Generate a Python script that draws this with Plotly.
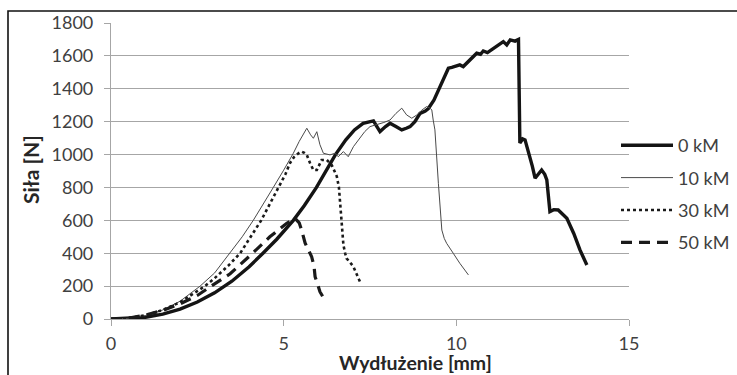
import plotly.graph_objects as go

# ---- data ----
x_0km = [0, 0.5, 1, 1.5, 2, 2.5, 3, 3.5, 4, 4.4, 4.8, 5.28, 5.6, 5.95, 6.2, 6.5, 6.8, 7.05, 7.3, 7.45,
         7.6, 7.7, 7.79, 7.95, 8.08, 8.25, 8.42, 8.55, 8.66, 8.8, 8.95, 9.1, 9.19, 9.35, 9.53, 9.65, 9.77, 9.87,
         9.96, 10.1, 10.2, 10.4, 10.59, 10.7, 10.78, 10.9, 11.07, 11.2, 11.36, 11.46, 11.56, 11.7, 11.8, 11.84,
         11.92, 11.99, 12.09, 12.2, 12.28, 12.38, 12.47, 12.56, 12.62, 12.71, 12.82, 12.95, 13.05, 13.2, 13.4,
         13.58, 13.78]
y_0km = [0, 3, 11, 30, 60, 103, 159, 230, 318, 400, 485, 600, 690, 800, 890, 1000, 1090, 1150, 1190, 1200,
         1205, 1170, 1140, 1170, 1190, 1170, 1150, 1160, 1170, 1200, 1250, 1265, 1280, 1330, 1413, 1470, 1525, 1530,
         1535, 1545, 1535, 1575, 1616, 1610, 1630, 1620, 1646, 1660, 1687, 1667, 1697, 1690, 1700, 1070,
         1095, 1089, 1018, 930, 856, 880, 906, 880, 846, 653, 665, 663, 640, 613, 520,
         420, 328]

x_10km = [0, 0.5, 1, 1.5, 2, 2.58, 3, 3.45, 3.8, 4.12, 4.4, 4.7, 5.0, 5.28, 5.45, 5.6, 5.67, 5.78, 5.86, 5.96,
          6.05, 6.15, 6.34, 6.49, 6.58, 6.73, 6.87, 7.02, 7.2, 7.35, 7.5, 7.69, 7.9, 8.08, 8.25, 8.42, 8.56, 8.71,
          8.85, 9.0, 9.14, 9.24, 9.29, 9.33, 9.38, 9.48, 9.58, 9.65, 9.72, 9.91, 10.1, 10.35]
y_10km = [0, 4, 21, 55, 108, 200, 280, 400, 500, 600, 700, 800, 905, 1008, 1080, 1140, 1160, 1120, 1099, 1139,
          1060, 1008, 998, 1008, 987, 1018, 987, 1048, 1100, 1140, 1170, 1180, 1195, 1210, 1250, 1282, 1241, 1221,
          1240, 1270, 1292, 1282, 1271, 1210, 1150, 825, 541, 490, 460, 400, 339, 268]

x_30km = [0, 0.5, 1, 1.5, 2, 2.72, 3, 3.4, 3.74, 4.05, 4.35, 4.6, 4.85, 5.05, 5.18, 5.3, 5.43, 5.52, 5.6, 5.67,
          5.76, 5.86, 5.96, 6.03, 6.1, 6.25, 6.39, 6.47, 6.54, 6.6, 6.63, 6.68, 6.73, 6.78, 6.82, 6.92, 7.02, 7.1,
          7.21]
y_30km = [0, 5, 23, 55, 102, 200, 248, 325, 400, 500, 600, 700, 800, 880, 947, 985, 1008, 1018, 1010, 998,
          950, 906, 906, 940, 967, 967, 937, 900, 866, 800, 724, 602, 450, 400, 369, 345, 318, 280,
          227]

x_50km = [0, 0.5, 1, 1.5, 2, 2.5, 2.9, 3.45, 4.1, 4.6, 5.09, 5.25, 5.33, 5.45, 5.52, 5.62, 5.72, 5.81, 5.88,
          5.91, 6.0, 6.05, 6.15, 6.29]
y_50km = [0, 5, 24, 52, 92, 143, 200, 275, 400, 500, 582, 600, 612, 585, 541, 462, 420, 379, 320,
          257, 200, 166, 130, 115]

series_names = ["0 kM", "10 kM", "30 kM", "50 kM"]
x_ticks = [0, 5, 10, 15]
x_title = "Wydłużenie [mm]"
y_title = "Siła [N]"

FONT = "Lato, 'Open Sans', sans-serif"

fig = go.Figure()
fig.add_trace(go.Scatter(x=x_0km, y=y_0km, mode="lines", name=series_names[0], legendgroup="a",
                         line=dict(color="#141414", width=3.4)))
fig.add_trace(go.Scatter(x=x_10km, y=y_10km, mode="lines", name=series_names[1], legendgroup="b",
                         line=dict(color="#4a4a4a", width=1)))
fig.add_trace(go.Scatter(x=x_30km, y=y_30km, mode="lines", name=series_names[2], legendgroup="c",
                         line=dict(color="#1a1a1a", width=2.6, dash="3px,3px")))
fig.add_trace(go.Scatter(x=x_50km, y=y_50km, mode="lines", name=series_names[3], legendgroup="d",
                         line=dict(color="#1a1a1a", width=3.2, dash="11px,7px")))

W, H = 737, 375
L, R, T, B = 111, 108, 23, 56
pw, ph = W - L - R, H - T - B

def px2paper_x(px):
    return (px - L) / pw

def py2paper_y(py):
    return (H - B - py) / ph

fig.update_layout(
    width=W, height=H,
    margin=dict(l=L, r=R, t=T, b=B, autoexpand=False),
    paper_bgcolor="white", plot_bgcolor="white",
    font=dict(family=FONT, size=18, color="#404040"),
    showlegend=True,
    legend=dict(x=px2paper_x(616), y=py2paper_y(127), xanchor="left", yanchor="top",
                itemwidth=52, tracegroupgap=6, bgcolor="rgba(0,0,0,0)",
                font=dict(family=FONT, size=18, color="#404040")),
    shapes=[dict(type="rect", xref="paper", yref="paper",
                 x0=px2paper_x(8), x1=px2paper_x(745), y0=py2paper_y(385), y1=py2paper_y(11),
                 line=dict(color="#111", width=1.6), fillcolor="rgba(0,0,0,0)", layer="below")],
    annotations=[
        dict(text=f"<b>{x_title}</b>", xref="paper", yref="paper",
             x=px2paper_x(415), y=py2paper_y(375), xanchor="center", yanchor="bottom",
             showarrow=False, borderpad=0, font=dict(family=FONT, size=19.5, color="#262626")),
        dict(text=f"<b>{y_title}</b>", xref="paper", yref="paper", textangle=-90,
             x=px2paper_x(30), y=py2paper_y(170), xanchor="center", yanchor="middle",
             showarrow=False, font=dict(family=FONT, size=21, color="#262626")),
    ],
)
fig.update_xaxes(range=[0, 15], tickvals=x_ticks, showgrid=False, zeroline=False,
                 showline=True, linecolor="#a6a6a6", linewidth=1.2,
                 ticks="outside", ticklen=6, tickcolor="#a6a6a6", ticklabelstandoff=2)
fig.update_yaxes(range=[0, 1800], dtick=200, showgrid=True, gridcolor="#a6a6a6", gridwidth=1.2,
                 zeroline=False, showline=True, linecolor="#a6a6a6", linewidth=1.2,
                 ticks="outside", ticklen=6, tickcolor="#a6a6a6", ticklabelstandoff=7)

fig.write_html("out.html", config={"displayModeBar": False},
               post_script="document.body.style.margin='0';document.body.style.overflow='hidden';")
